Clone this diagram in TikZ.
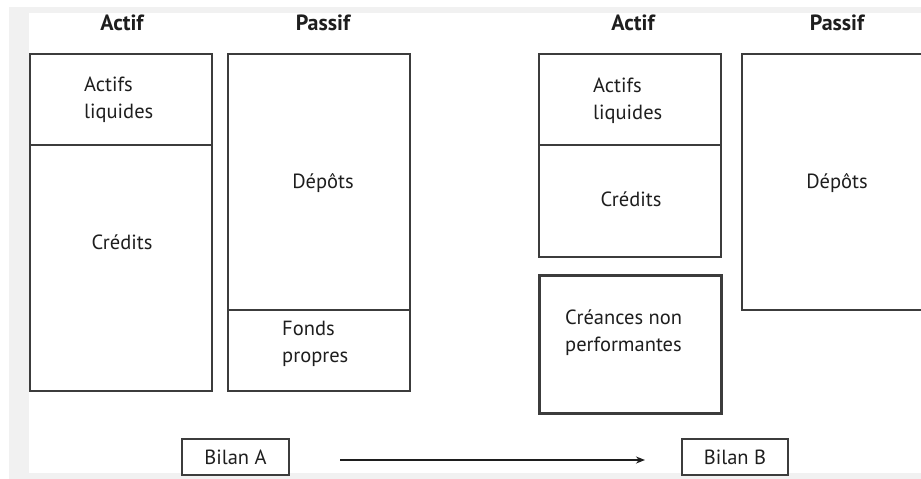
\documentclass[tikz,border=0pt]{standalone}
\usepackage{fontspec}
\setmainfont{PT Sans}
\usetikzlibrary{arrows.meta}
\definecolor{bggrey}{HTML}{F1F1F1}
\definecolor{linec}{HTML}{3C3C3C}
\definecolor{txtc}{HTML}{1E1E1E}
\begin{document}
\begin{tikzpicture}[x=1pt,y=-1pt,
  sect/.style={draw=linec, line width=1.5pt, anchor=north west, inner sep=0pt, outer sep=0pt, fill=white},
  npl/.style={sect, line width=3pt},
  lbl/.style={font=\fontsize{20.5}{27}\selectfont, text=txtc, align=left, inner sep=0pt},
  hdr/.style={font=\fontsize{22}{24}\selectfont\bfseries, text=txtc, inner sep=0pt},
  tag/.style={draw=linec, line width=1.3pt, font=\fontsize{20.5}{24}\selectfont, text=txtc, minimum height=36pt, inner sep=0pt, outer sep=0pt, fill=white},
  flow/.style={draw=txtc, line width=1.8pt, -{Stealth[length=9pt,width=7pt]}}]
\useasboundingbox (0,0) rectangle (921,479);
\fill[white] (0,0) rectangle (921,479);
\fill[bggrey] (9,7) rectangle (921,479);
\fill[white] (29,13) rectangle (921,473);

% Bilan A
\node[hdr] (hA1) at (122,23) {Actif};
\node[hdr] (hP1) at (323,23) {Passif};
\node[sect, minimum width=182pt, minimum height=91pt] (aLiq) at (30,54) {};
\node[sect, minimum width=182pt, minimum height=246pt] (aCred) at (30,145) {};
\node[sect, minimum width=182pt, minimum height=256pt] (aDep) at (228,54) {};
\node[sect, minimum width=182pt, minimum height=81pt] (aFP) at (228,310) {};
\node[lbl, anchor=north west] (tLiqA) at (84,77) {Actifs\\liquides};
\node[lbl] (tCredA) at (122,242) {Crédits};
\node[lbl] (tDepA) at (323,183) {Dépôts};
\node[lbl, anchor=north west] (tFP) at (282,321) {Fonds\\propres};

% Bilan B
\node[hdr] (hA2) at (633,23) {Actif};
\node[hdr] (hP2) at (837,23) {Passif};
\node[sect, minimum width=182pt, minimum height=91pt] (bLiq) at (539,54) {};
\node[sect, minimum width=182pt, minimum height=112pt] (bCred) at (539,145) {};
\node[sect, minimum width=200pt, minimum height=256pt] (bDep) at (742,54) {};
\node[npl, minimum width=182pt, minimum height=138pt] (bNPL) at (539,275) {};
\node[lbl, anchor=north west] (tLiqB) at (593,78) {Actifs\\liquides};
\node[lbl] (tCredB) at (631,199) {Crédits};
\node[lbl] (tDepB) at (837,183) {Dépôts};
\node[lbl, anchor=north west] (tNPL) at (565,310) {Créances non\\performantes};

% Bottom tags and arrow
\node[tag, minimum width=107pt] (bilA) at (235.5,457) {Bilan A};
\node[tag, minimum width=106pt] (bilB) at (735,457) {Bilan B};
\coordinate (arrS) at (340,460);
\coordinate (arrE) at (645,460);
\draw[flow] (arrS) -- (arrE);
\end{tikzpicture}
\end{document}
